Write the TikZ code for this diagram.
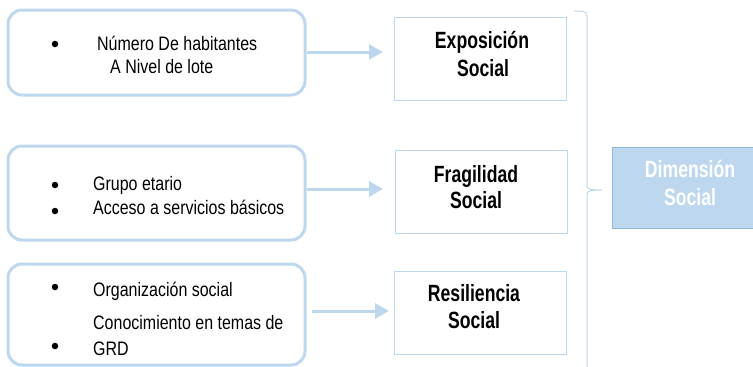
\documentclass[tikz,border=0pt]{standalone}
\usepackage{fontspec}
\setmainfont{Liberation Sans}[FakeStretch=0.82]
\newfontfamily\tfont{Liberation Sans}[FakeStretch=0.75]
\usetikzlibrary{arrows.meta}
\definecolor{lblue}{HTML}{BDD7EE}
\definecolor{mblue}{HTML}{8FB8E0}
\begin{document}
\begin{tikzpicture}[x=1pt,y=-1pt,
  rbox/.style={draw=lblue,line width=3pt,rounded corners=14pt,inner sep=0pt},
  sbox/.style={draw=lblue,line width=1pt,inner sep=0pt,minimum width=172pt,minimum height=83pt},
  txt/.style={inner sep=0pt,anchor=base west,font=\fontsize{19.5}{24}\selectfont},
  bul/.style={circle,fill=black,inner sep=0pt,minimum size=6.5pt},
  ttl/.style={inner sep=0pt,anchor=base,font=\tfont\bfseries\fontsize{23.5}{27}\selectfont},
  arr/.style={draw=lblue,line width=3pt,-{Triangle[length=14pt,width=15pt]}}]
\useasboundingbox (0,0) rectangle (753,367);
% left rounded boxes
\node[rbox,minimum width=297pt,minimum height=85pt] (b1) at (156.5,52.5) {};
\node[rbox,minimum width=297pt,minimum height=94pt] (b2) at (156.5,193) {};
\node[rbox,minimum width=297pt,minimum height=101pt] (b3) at (156.5,314.5) {};
% bullets and texts
\node[bul] (d1) at (55,44) {};
\node[txt] (t1a) at (97,50) {Número De habitantes};
\node[txt] (t1b) at (110,73) {A Nivel de lote};
\node[bul] (d2a) at (55,185) {};
\node[bul] (d2b) at (55,211) {};
\node[txt] (t2a) at (93,190) {Grupo etario};
\node[txt] (t2b) at (93,214) {Acceso a servicios básicos};
\node[bul] (d3a) at (55,287) {};
\node[bul] (d3b) at (55,346) {};
\node[txt] (t3a) at (93,296) {Organización social};
\node[txt] (t3b) at (93,329) {Conocimiento en temas de};
\node[txt] (t3c) at (93,355) {GRD};
% right boxes
\node[sbox] (e) at (480,58.5) {};
\node[sbox] (f) at (481,191.5) {};
\node[sbox] (r) at (480,312.5) {};
\node[ttl] (e1) at (482,48) {Exposición};
\node[ttl] (e2) at (483,76) {Social};
\node[ttl] (f1) at (476,182) {Fragilidad};
\node[ttl] (f2) at (476,208.5) {Social};
\node[ttl] (r1) at (474,301) {Resiliencia};
\node[ttl] (r2) at (474,328) {Social};
% arrows
\coordinate (a1) at (383,52);
\coordinate (a2) at (383,189);
\coordinate (a3) at (389,311);
\draw[arr] (b1.east |- a1) -- (a1);
\draw[arr] (b2.east |- a2) -- (a2);
\draw[arr] ([xshift=5pt]b3.east |- a3) -- (a3);
% brace
\draw[draw=lblue,line width=1pt] (574,11) .. controls (582,11) and (587,11) .. (587,16)
  -- (587,186) .. controls (587,189) and (590,190) .. (602,190)
  .. controls (590,190) and (587,191) .. (587,194) -- (587,368);
% dimension box
\node[draw=mblue,fill=lblue,line width=1pt,inner sep=0pt,minimum width=156pt,minimum height=81pt] (dim) at (690,187.5) {};
\node[ttl,text=white] (dm1) at (690,177) {Dimensión};
\node[ttl,text=white] (dm2) at (690,205) {Social};
\end{tikzpicture}
\end{document}
